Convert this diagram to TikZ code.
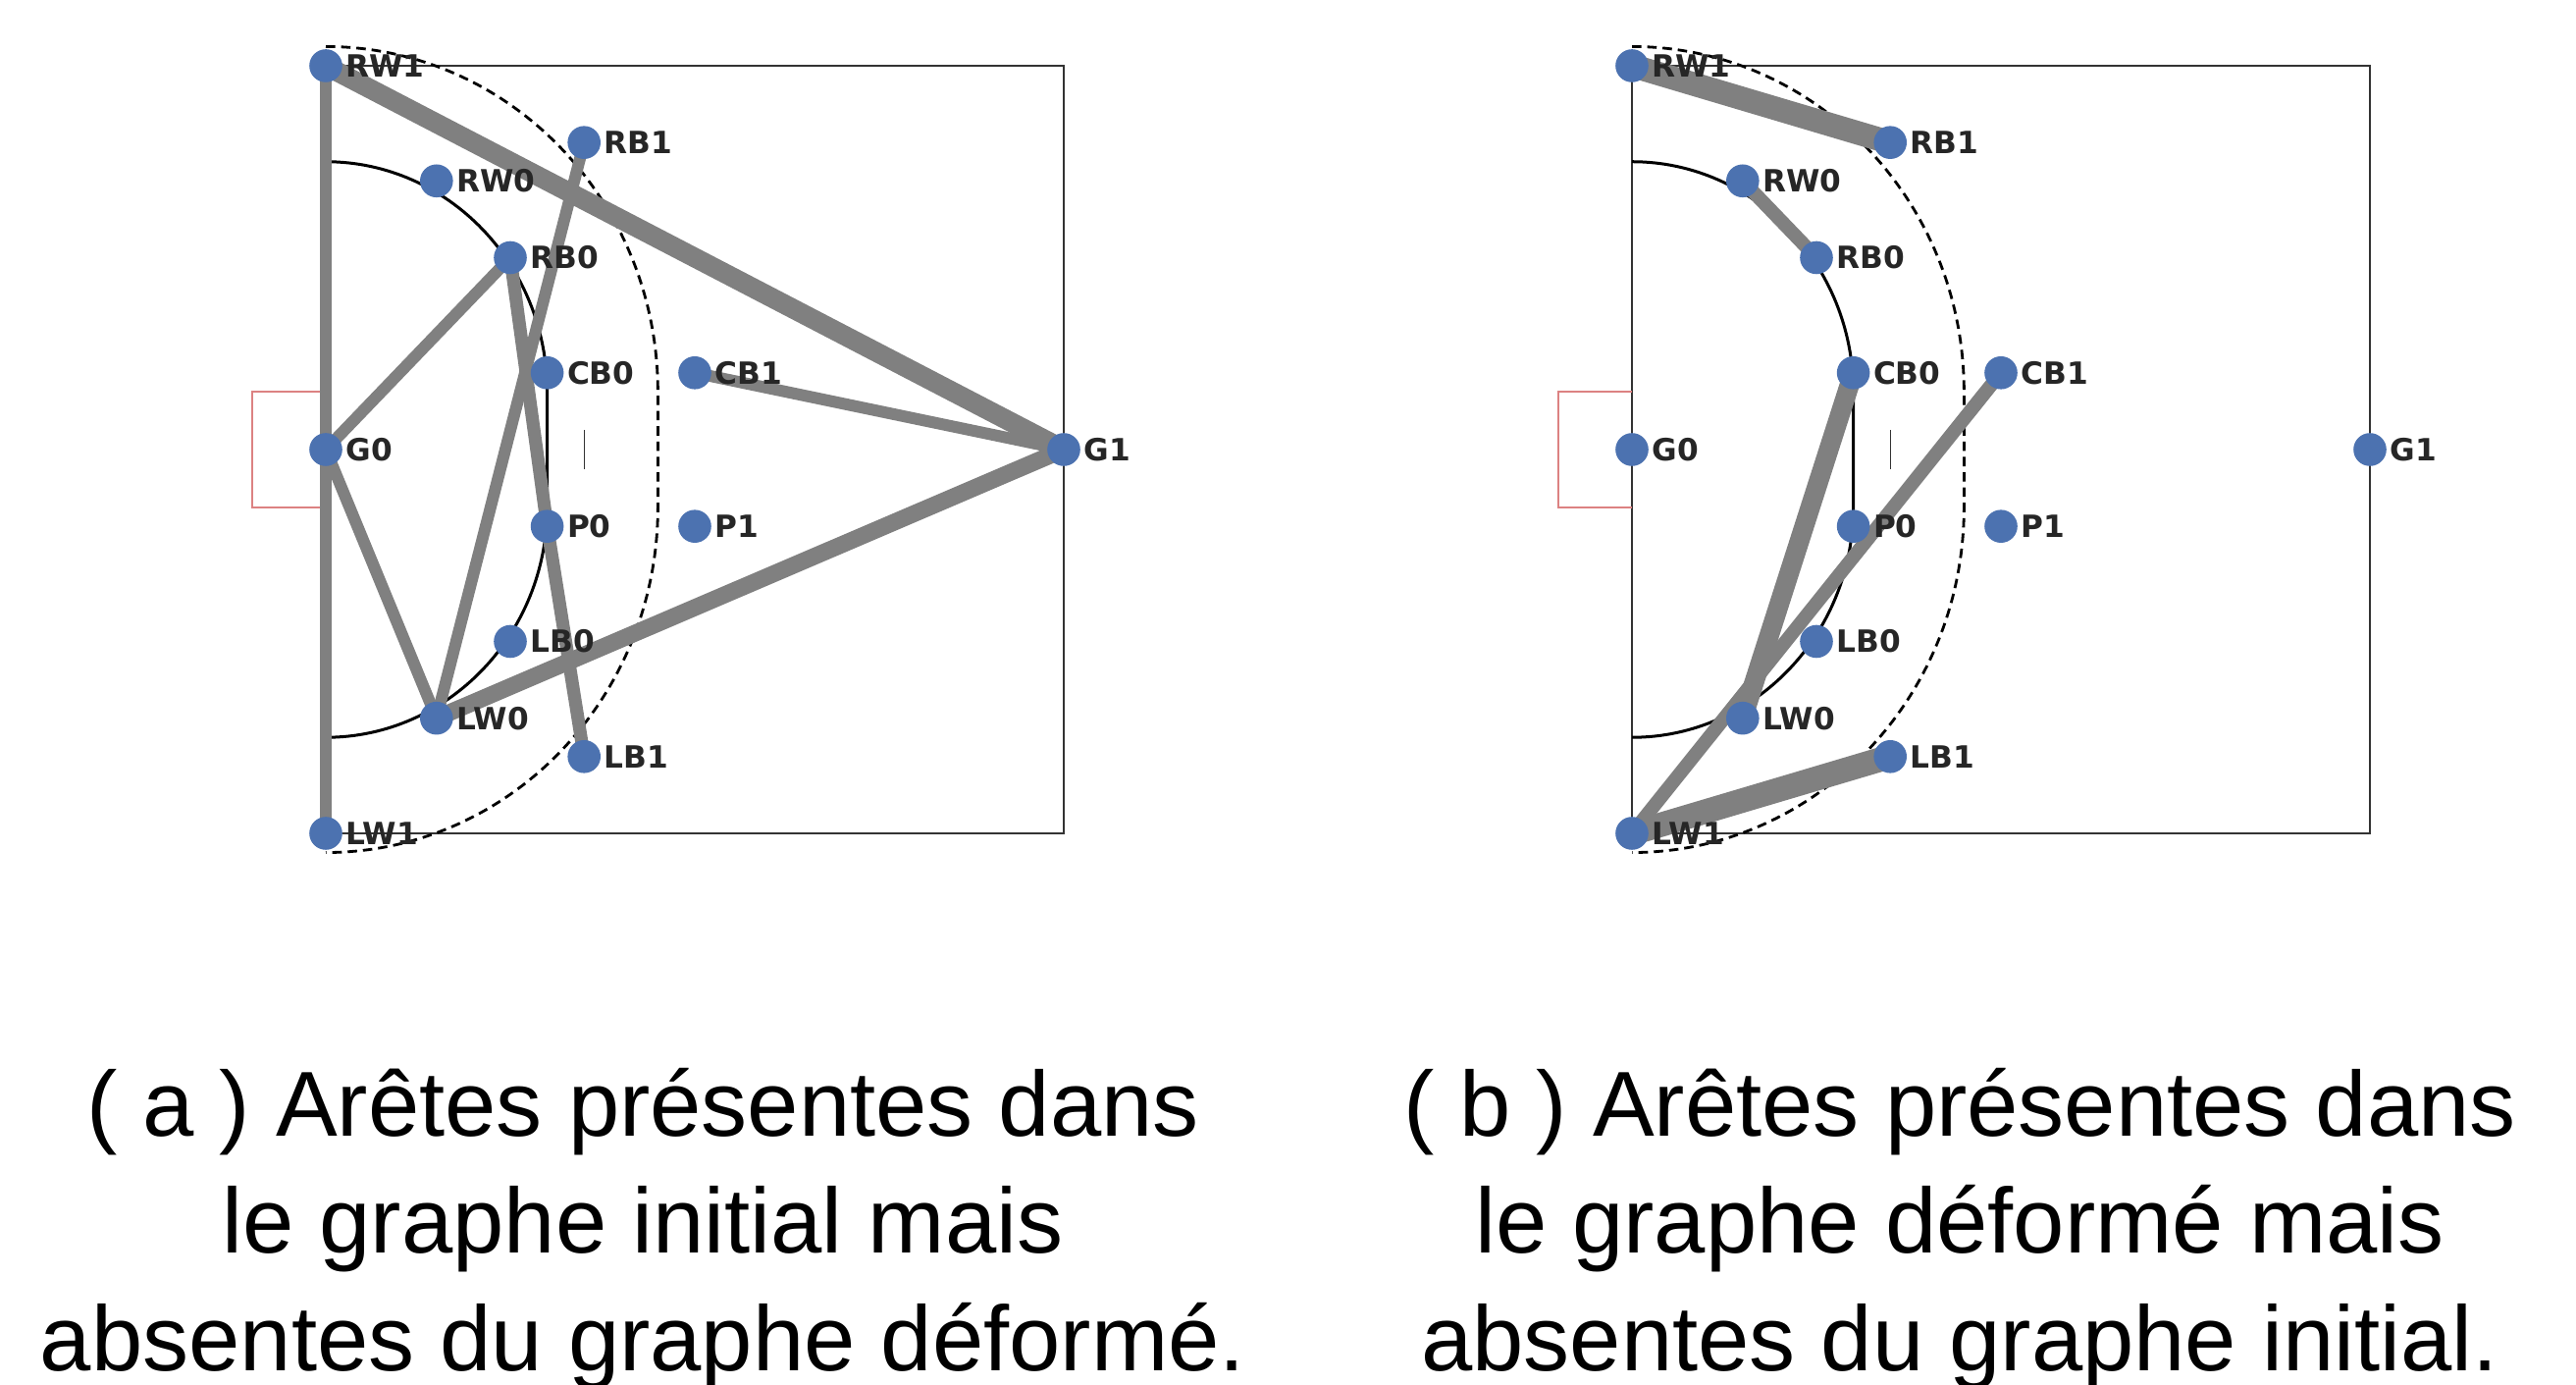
\documentclass[tikz,border=0pt]{standalone}
\usepackage{fontspec}
\setmainfont{Liberation Sans}
\newfontfamily\labfont{DejaVu Sans}
\definecolor{nodeblue}{HTML}{4C72B0}
\definecolor{edgegray}{HTML}{808080}
\definecolor{labcol}{HTML}{262626}
\definecolor{goalred}{HTML}{DC8282}
\definecolor{courtgray}{HTML}{333333}
\pgfdeclarelayer{background}
\pgfsetlayers{background,main}
\tikzset{
  plabel/.style={font=\labfont\bfseries\fontsize{7.8}{8.5}\selectfont, text=labcol, inner sep=0pt},
  player/.style={circle, fill=nodeblue, minimum size=8.4pt, inner sep=0pt, label={[plabel]right:#1}},
  link/.style={draw=edgegray, line width=#1},
  courtbox/.style={draw=courtgray, line width=0.45pt},
  goalbox/.style={draw=goalred, line width=0.45pt},
  sixline/.style={draw=black, line width=0.75pt},
  nineline/.style={draw=black, line width=0.7pt, dash pattern=on 2.4pt off 1.5pt},
  capline/.style={font=\fontsize{23.5}{28}\selectfont, inner sep=0pt, anchor=base},
}
\newcommand{\courtlines}{%
  \draw[courtbox] (0,0) rectangle (20,20);
  \draw[goalbox] (0,8.5) -- (-2,8.5) -- (-2,11.5) -- (0,11.5);
  \draw[sixline] (0,17.5) arc[start angle=90, end angle=0, x radius=6, y radius=6]
    -- (6,8.5) arc[start angle=0, end angle=-90, x radius=6, y radius=6];
  \draw[nineline] (0,20.5) arc[start angle=90, end angle=0, x radius=9, y radius=9]
    -- (9,8.5) arc[start angle=0, end angle=-90, x radius=9, y radius=9];
  \draw[courtbox, line width=0.35pt] (7,9.5) -- (7,10.5);
}
\newcommand{\placeplayers}[1]{%
  \node[player=RW1] (#1RW1) at (0,20) {};
  \node[player=RB1] (#1RB1) at (7,18) {};
  \node[player=RW0] (#1RW0) at (3,17) {};
  \node[player=RB0] (#1RB0) at (5,15) {};
  \node[player=CB0] (#1CB0) at (6,12) {};
  \node[player=CB1] (#1CB1) at (10,12) {};
  \node[player=G0] (#1G0) at (0,10) {};
  \node[player=G1] (#1G1) at (20,10) {};
  \node[player=P0] (#1P0) at (6,8) {};
  \node[player=P1] (#1P1) at (10,8) {};
  \node[player=LB0] (#1LB0) at (5,5) {};
  \node[player=LW0] (#1LW0) at (3,3) {};
  \node[player=LB1] (#1LB1) at (7,2) {};
  \node[player=LW1] (#1LW1) at (0,0) {};
}
\begin{document}
\begin{tikzpicture}[x=0.25pt, y=0.25pt, label distance=0.5pt]
\useasboundingbox (0,0) rectangle (2625,1411);

% ---------- panel (a)
\begin{scope}[xshift=83pt, yshift=140.5pt, x=9.4pt, y=9.775pt]
  \placeplayers{a}
  \begin{pgfonlayer}{background}
    \courtlines
    \draw[link=3pt] (aRW1.center) -- (aG0.center);
    \draw[link=3pt] (aG0.center) -- (aLW1.center);
    \draw[link=5pt] (aRW1.center) -- (aG1.center);
    \draw[link=3pt] (aG0.center) -- (aRB0.center);
    \draw[link=3pt] (aG0.center) -- (aLW0.center);
    \draw[link=3.3pt] (aRB0.center) -- (aP0.center);
    \draw[link=3.3pt] (aP0.center) -- (aLB1.center);
    \draw[link=3pt] (aRB1.center) -- (aLW0.center);
    \draw[link=3pt] (aCB1.center) -- (aG1.center);
    \draw[link=4.3pt] (aLW0.center) -- (aG1.center);
  \end{pgfonlayer}
\end{scope}

% ---------- panel (b)
\begin{scope}[xshift=415.75pt, yshift=140.5pt, x=9.4pt, y=9.775pt]
  \placeplayers{b}
  \begin{pgfonlayer}{background}
    \courtlines
    \draw[link=6pt] (bRW1.center) -- (bRB1.center);
    \draw[link=3.5pt] (bRW0.center) -- (bRB0.center);
    \draw[link=5pt] (bCB0.center) -- (bLW0.center);
    \draw[link=3.5pt] (bCB1.center) -- (bLW1.center);
    \draw[link=6.2pt] (bLW1.center) -- (bLB1.center);
  \end{pgfonlayer}
\end{scope}

% ---------- captions
\node[capline] (capa1) at (655,253.3) {( a ) Arêtes présentes dans};
\node[capline] (capa2) at (655,134) {le graphe initial mais};
\node[capline] (capa3) at (655,14) {absentes du graphe déformé.};
\node[capline] (capb1) at (1997,253.3) {( b ) Arêtes présentes dans};
\node[capline] (capb2) at (1997,134) {le graphe déformé mais};
\node[capline] (capb3) at (1997,14) {absentes du graphe initial.};
\end{tikzpicture}
\end{document}
